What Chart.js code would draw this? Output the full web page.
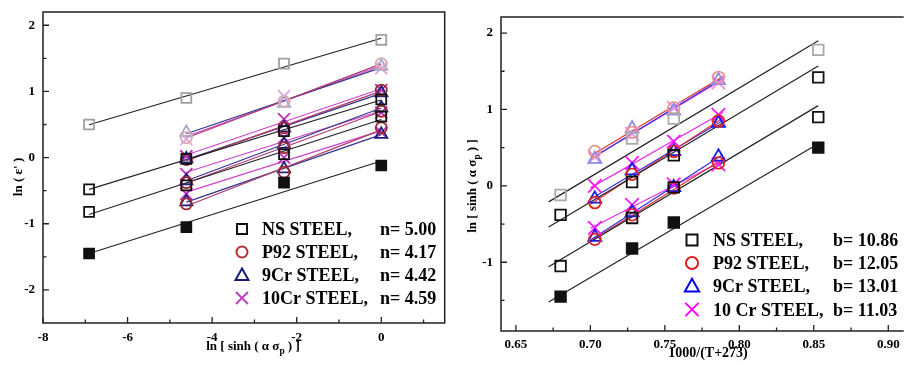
<!DOCTYPE html>
<html>
<head>
<meta charset="utf-8">
<script src="https://cdn.jsdelivr.net/npm/chart.js@4.4.1/dist/chart.umd.min.js"></script>
<style>
  html, body { margin: 0; padding: 0; background: #fff; overflow: hidden; }
  #wrap { position: relative; width: 910px; height: 365px; overflow: hidden; }
  #left { position: absolute; left: 0; top: 0; }
  #right { position: absolute; left: 455px; top: 0; }
</style>
</head>
<body>
<div id="wrap">
  <canvas id="left" width="455" height="365"></canvas>
  <canvas id="right" width="455" height="365"></canvas>
</div>
<script>
/* ---------------- data ---------------- */
// strain rates 0.001 .. 1 as ln values (x of left panel)
const lnRateNS = [-6.91, -4.61, -2.30, 0];
const lnRateCr = [-4.61, -2.30, 0];
// 1000/(T+273) (x of right panel)
const invTempNS = [0.680, 0.728, 0.756, 0.853];
const invTempCr = [0.703, 0.728, 0.756, 0.786];

// ln[sinh(a*sigma_p)]: one row per temperature (order of invTemp), one column per strain rate
const nsVals = [
  [-1.45, -1.05, -0.38, -0.12],
  [-0.82, -0.42, 0.05, 0.62],
  [-0.48, -0.02, 0.40, 0.88],
  [0.50, 0.90, 1.42, 1.78]
];
const p92Vals = [
  [-0.70, -0.22, 0.45],
  [-0.38, 0.15, 0.70],
  [-0.03, 0.45, 1.02],
  [0.30, 0.85, 1.42]
];
const cr9Vals = [
  [-0.67, -0.17, 0.35],
  [-0.35, 0.20, 0.75],
  [-0.02, 0.45, 0.98],
  [0.38, 0.82, 1.38]
];
const cr10Vals = [
  [-0.55, 0.00, 0.38],
  [-0.25, 0.30, 0.68],
  [0.02, 0.58, 1.02],
  [0.28, 0.93, 1.35]
];

// fitted lines of NS steel in the right panel, one per strain rate
const nsFitX = [0.672, 0.853];
const nsFitY = [[-1.52, 0.55], [-1.06, 1.05], [-0.54, 1.57], [-0.21, 1.90]];
const crFitX = [0.700, 0.789];

const leftNames = ['NS STEEL,', 'P92 STEEL,', '9Cr STEEL,', '10Cr STEEL,'];
const nLabels = ['n= 5.00', 'n= 4.17', 'n= 4.42', 'n= 4.59'];
const rightNames = ['NS STEEL,', 'P92 STEEL,', '9Cr STEEL,', '10 Cr STEEL,'];
const bLabels = ['b= 10.86', 'b= 12.05', 'b= 13.01', 'b= 11.03'];

const xTicksLeft = [-8, -6, -4, -2, 0];
const xMinorLeft = [-7, -5, -3, -1, 1];
const yTicksLeft = [-2, -1, 0, 1, 2];
const xTicksRight = [0.65, 0.70, 0.75, 0.80, 0.85, 0.90];
const xMinorRight = [0.675, 0.725, 0.775, 0.825, 0.875];
const yTicksRight = [-1, 0, 1, 2];
const yMinor = [-1.5, -0.5, 0.5, 1.5];

/* ---------------- styles ---------------- */
const SERIF = "'Liberation Serif', 'Times New Roman', serif";
const NONE = 'rgba(0,0,0,0)';

const crSteels = [
  { vals: p92Vals, style: 'circle', r: 5.5, rr: 5.8,
    lc: '#a02830', ll: '#d8a8b0', lline: '#b03a6a',
    rc: '#e02525', rl: '#ee9090', rline: '#e03030' },
  { vals: cr9Vals, style: 'triangle', r: 7, rr: 7.5,
    lc: '#20207a', ll: '#a8a8d0', lline: '#34348e',
    rc: '#1a1ae0', rl: '#8c8ce8', rline: '#3030e0' },
  { vals: cr10Vals, style: 'crossRot', r: 8.5, rr: 9.5,
    lc: '#c030c0', ll: '#e0a8e0', lline: '#cc44cc',
    rc: '#ff1aff', rl: '#f090f0', rline: '#e030e0' }
];

/* ---------------- helpers ---------------- */
function linFit(xs, ys) {
  const n = xs.length;
  const mx = xs.reduce((a, b) => a + b) / n;
  const my = ys.reduce((a, b) => a + b) / n;
  let sxy = 0, sxx = 0;
  xs.forEach((x, i) => { sxy += (x - mx) * (ys[i] - my); sxx += (x - mx) * (x - mx); });
  const m = sxy / sxx;
  return x => my + m * (x - mx);
}

function pts(xs, ys) {
  return xs.map((x, i) => ({ x: x, y: ys[i] }));
}

function markers(data, style, r, color, fill) {
  return {
    data: data, showLine: false, order: 0,
    pointStyle: style, pointRadius: r, pointHoverRadius: r,
    pointBorderColor: color, pointBackgroundColor: fill || NONE,
    pointBorderWidth: 1.8
  };
}

function segment(x0, y0, x1, y1, color) {
  return {
    data: [{ x: x0, y: y0 }, { x: x1, y: y1 }], showLine: true, order: 1,
    pointRadius: 0, borderColor: color, borderWidth: 1.2
  };
}

function fitLine(xs, ys, x0, x1, color) {
  const f = linFit(xs, ys);
  return segment(x0, f(x0), x1, f(x1), color);
}

/* ---------------- left panel datasets ---------------- */
const leftSets = [];
nsVals.forEach((row, ti) => {
  const light = ti === 3;
  leftSets.push(markers(pts(lnRateNS, row), 'rect', 7, light ? '#a0a0a0' : '#111', ti === 0 ? '#111' : NONE));
  leftSets.push(fitLine(lnRateNS, row, lnRateNS[0], 0, '#222'));
});
crSteels.forEach(s => {
  s.vals.forEach((row, ti) => {
    const light = ti === 3;
    leftSets.push(markers(pts(lnRateCr, row), s.style, s.r, light ? s.ll : s.lc));
    leftSets.push(fitLine(lnRateCr, row, lnRateCr[0], 0, s.lline));
  });
});

/* ---------------- right panel datasets ---------------- */
const rightSets = [];
nsFitY.forEach((fy, ri) => {
  const col = nsVals.map(row => row[ri]);
  rightSets.push(markers(pts(invTempNS, col), 'rect', 7.5, ri === 3 ? '#aaaaaa' : '#111', ri === 0 ? '#111' : NONE));
  rightSets.push(segment(nsFitX[0], fy[0], nsFitX[1], fy[1], '#222'));
});
crSteels.forEach(s => {
  lnRateCr.forEach((_, ri) => {
    const col = s.vals.map(row => row[ri]);
    rightSets.push(markers(pts(invTempCr, col), s.style, s.rr, ri === 2 ? s.rl : s.rc));
    rightSets.push(fitLine(invTempCr, col, crFitX[0], crFitX[1], s.rline));
  });
});

/* ---------------- frame, inward ticks, titles, legend ---------------- */
function drawRich(ctx, parts, size, base) {
  const fonts = parts.map(p => 'bold ' + (p[1] ? size * 0.72 : size) + 'px ' + SERIF);
  const widths = parts.map((p, i) => { ctx.font = fonts[i]; return ctx.measureText(p[0]).width; });
  let x = -widths.reduce((a, b) => a + b) / 2;
  parts.forEach((p, i) => {
    ctx.font = fonts[i];
    ctx.fillText(p[0], x, base + (p[1] ? size * 0.3 : 0));
    x += widths[i];
  });
}

function drawMarker(ctx, style, x, y, color, k) {
  ctx.strokeStyle = color;
  ctx.lineWidth = 2;
  ctx.beginPath();
  if (style === 'rect') {
    ctx.rect(x - 5 * k, y - 5 * k, 10 * k, 10 * k);
  } else if (style === 'circle') {
    ctx.arc(x, y, 5.5 * k, 0, Math.PI * 2);
  } else if (style === 'triangle') {
    ctx.moveTo(x, y - 6.5 * k);
    ctx.lineTo(x + 6.5 * k, y + 5 * k);
    ctx.lineTo(x - 6.5 * k, y + 5 * k);
    ctx.closePath();
  } else {
    ctx.moveTo(x - 6 * k, y - 6 * k); ctx.lineTo(x + 6 * k, y + 6 * k);
    ctx.moveTo(x + 6 * k, y - 6 * k); ctx.lineTo(x - 6 * k, y + 6 * k);
  }
  ctx.stroke();
}

const deco = {
  id: 'deco',
  afterDatasetsDraw(chart, args, o) {
    const ctx = chart.ctx, a = chart.chartArea;
    const sx = chart.scales.x, sy = chart.scales.y;
    ctx.save();
    ctx.strokeStyle = '#222';
    ctx.lineWidth = 1.5;
    ctx.beginPath();
    if (o.openRight) {
      ctx.moveTo(a.right + 5, a.top);
      ctx.lineTo(a.left, a.top);
      ctx.lineTo(a.left, a.bottom);
      ctx.lineTo(a.right + 5, a.bottom);
    } else {
      ctx.rect(a.left, a.top, a.right - a.left, a.bottom - a.top);
    }
    ctx.stroke();

    ctx.lineWidth = 1.3;
    ctx.beginPath();
    const tick = (x1, y1, x2, y2) => { ctx.moveTo(x1, y1); ctx.lineTo(x2, y2); };
    o.xMajor.forEach(v => { const p = sx.getPixelForValue(v); tick(p, a.bottom, p, a.bottom - 6); });
    o.xMinor.forEach(v => { const p = sx.getPixelForValue(v); tick(p, a.bottom, p, a.bottom - 3.5); });
    o.yMajor.forEach(v => { const p = sy.getPixelForValue(v); tick(a.left, p, a.left + 6, p); });
    o.yMinor.forEach(v => { const p = sy.getPixelForValue(v); tick(a.left, p, a.left + 3.5, p); });
    ctx.stroke();

    // axis titles
    ctx.fillStyle = '#000';
    ctx.textAlign = 'left';
    ctx.textBaseline = 'alphabetic';
    o.titles.forEach(t => {
      ctx.save();
      ctx.translate(t.x, t.y);
      if (t.rot) {
        ctx.rotate(-Math.PI / 2);
        drawRich(ctx, t.parts, t.size, t.size * 0.33);
      } else {
        drawRich(ctx, t.parts, t.size, 0);
      }
      ctx.restore();
    });

    // legend
    const L = o.legend;
    ctx.font = 'bold 18px ' + SERIF;
    L.rows.forEach((y, i) => {
      drawMarker(ctx, L.styles[i], L.markerX, y, L.colors[i], L.k);
      ctx.fillStyle = '#000';
      ctx.fillText(L.names[i], L.textX, y + 6);
      ctx.fillText(L.values[i], L.valueX, y + 6);
    });
    ctx.restore();
  }
};

const sigmaTitle = [['ln [ sinh ( \u03b1 \u03c3'], ['p', true], [' ) ]']];

function makeChart(id, datasets, sc, decoOpts) {
  const font = { family: SERIF, size: 13, weight: 'bold' };
  return new Chart(document.getElementById(id), {
    type: 'scatter',
    data: { datasets: datasets },
    options: {
      responsive: false,
      animation: false,
      devicePixelRatio: 1,
      layout: { padding: sc.pad },
      plugins: { legend: { display: false }, tooltip: { enabled: false }, deco: decoOpts },
      scales: {
        x: {
          type: 'linear', min: sc.xMin, max: sc.xMax,
          grid: { display: false, drawTicks: false }, border: { display: false },
          afterBuildTicks: s => { s.ticks = sc.xTicks.map(v => ({ value: v })); },
          afterFit: s => { s.height = sc.xH; s.paddingLeft = 0; s.paddingRight = 0; },
          ticks: { padding: sc.xPad, font: font, color: '#000', maxRotation: 0, autoSkip: false, callback: sc.xFmt }
        },
        y: {
          type: 'linear', min: sc.yMin, max: sc.yMax,
          grid: { display: false, drawTicks: false }, border: { display: false },
          afterBuildTicks: s => { s.ticks = sc.yTicks.map(v => ({ value: v })); },
          afterFit: s => { s.width = sc.yW; s.paddingTop = 0; s.paddingBottom = 0; },
          ticks: { padding: sc.yPad, font: font, color: '#000', autoSkip: false, callback: v => String(v) }
        }
      }
    },
    plugins: [deco]
  });
}

makeChart('left', leftSets, {
  pad: { left: 0, right: 2, top: 12, bottom: 0 },
  xMin: -8, xMax: 1.5, yMin: -2.5, yMax: 2.2,
  xTicks: xTicksLeft, yTicks: yTicksLeft,
  xH: 42, yW: 43, xPad: 7, yPad: 8,
  xFmt: v => String(v)
}, {
  openRight: false,
  xMajor: xTicksLeft, xMinor: xMinorLeft, yMajor: yTicksLeft, yMinor: yMinor,
  titles: [
    { parts: sigmaTitle, x: 253, y: 350, size: 13, rot: false },
    { parts: [["ln ( \u03b5' )"]], x: 18, y: 177, size: 13, rot: true }
  ],
  legend: {
    markerX: 242, textX: 262, valueX: 380, rows: [229, 252, 275, 298], k: 1,
    names: leftNames, values: nLabels,
    styles: ['rect', 'circle', 'triangle', 'cross'],
    colors: ['#111', '#b03030', '#1a1a7a', '#c040c0']
  }
});

makeChart('right', rightSets, {
  pad: { left: 0, right: 0, top: 17, bottom: 0 },
  xMin: 0.64, xMax: 0.907, yMin: -1.9, yMax: 2.21,
  xTicks: xTicksRight, yTicks: yTicksRight,
  xH: 34, yW: 46, xPad: 6, yPad: 8,
  xFmt: v => v.toFixed(2)
}, {
  openRight: true,
  xMajor: xTicksRight, xMinor: xMinorRight, yMajor: yTicksRight, yMinor: yMinor,
  titles: [
    { parts: [['1000/(T+273)']], x: 253, y: 357, size: 14, rot: false },
    { parts: sigmaTitle, x: 17, y: 186, size: 13, rot: true }
  ],
  legend: {
    markerX: 237, textX: 258, valueX: 378, rows: [240, 263, 286, 309.5], k: 1.1,
    names: rightNames, values: bLabels,
    styles: ['rect', 'circle', 'triangle', 'cross'],
    colors: ['#111', '#e02020', '#0000ee', '#ff00ff']
  }
});
</script>
</body>
</html>
